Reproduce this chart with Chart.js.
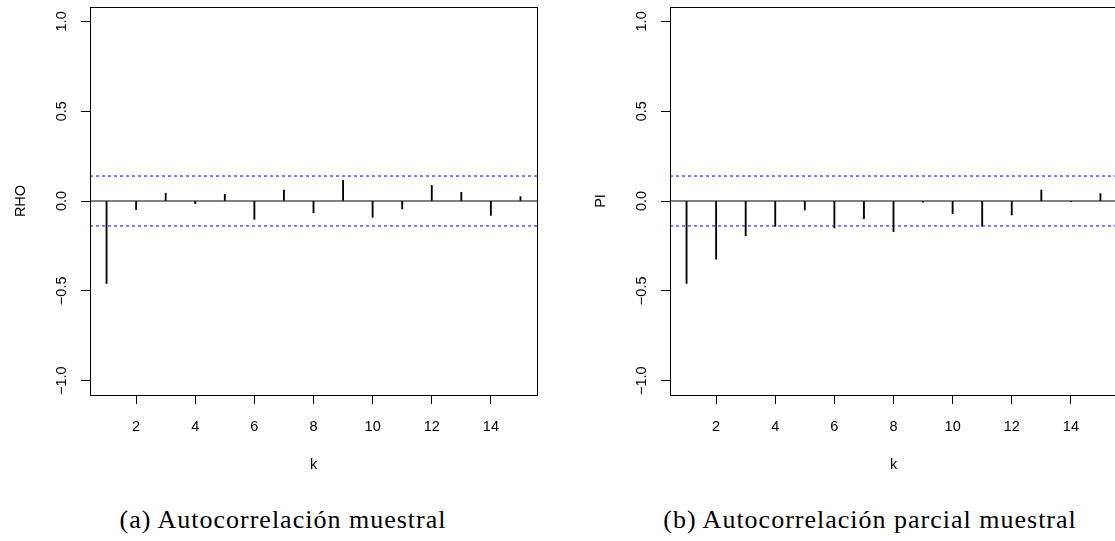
<!DOCTYPE html>
<html>
<head>
<meta charset="utf-8">
<script src="https://cdn.jsdelivr.net/npm/chart.js@4/dist/chart.umd.min.js"></script>
<style>
  body { margin: 0; width: 1115px; height: 541px; background: #fff; overflow: hidden; position: relative; }
  .panel { position: absolute; top: 0; width: 557px; height: 490px; }
  .caption { position: absolute; top: 507px; font-family: "Liberation Serif", serif; font-size: 26px; line-height: 26px;
             letter-spacing: 1px; white-space: nowrap; transform: translateX(-50%); color: #000; }
</style>
</head>
<body>
<div class="panel" style="left:0"><canvas id="acfChart" width="557" height="490"></canvas></div>
<div class="panel" style="left:580px"><canvas id="pacfChart" width="557" height="490"></canvas></div>
<div class="caption" style="left:283px">(a) Autocorrelación muestral</div>
<div class="caption" style="left:870px">(b) Autocorrelación parcial muestral</div>

<script>
"use strict";

// lags and sample correlations
let lags = [1, 2, 3, 4, 5, 6, 7, 8, 9, 10, 11, 12, 13, 14, 15];
let acfValues = [-0.459, -0.048, 0.043, -0.015, 0.037, -0.102, 0.061, -0.065, 0.115, -0.091, -0.044, 0.087, 0.048, -0.080, 0.024];
let pacfValues = [-0.459, -0.324, -0.194, -0.141, -0.050, -0.150, -0.098, -0.170, -0.007, -0.070, -0.141, -0.078, 0.061, -0.002, 0.041];
let confBound = 0.139;

let xTicks = [2, 4, 6, 8, 10, 12, 14];
let yTicks = [-1, -0.5, 0, 0.5, 1];
let yTickLabels = ["\u22121.0", "\u22120.5", "0.0", "0.5", "1.0"];
let xRange = [0.44, 15.56];
let yRange = [-1.08, 1.08];

const axisFont = { family: "'Liberation Sans', Arial, sans-serif", size: 14.5 };

// box round the plot + y tick labels written along the axis, as R does
const boxPlugin = {
  id: "box",
  afterDraw(chart) {
    const ctx = chart.ctx;
    const a = chart.chartArea;
    ctx.save();
    ctx.strokeStyle = "#000";
    ctx.lineWidth = 1;
    ctx.strokeRect(Math.round(a.left) + 0.5, Math.round(a.top) + 0.5,
      Math.round(a.right - a.left), Math.round(a.bottom - a.top));

    const yScale = chart.scales.y;
    ctx.fillStyle = "#000";
    ctx.font = "14.5px 'Liberation Sans', Arial, sans-serif";
    ctx.textAlign = "center";
    ctx.textBaseline = "middle";
    for (let i = 0; i < yTicks.length; i++) {
      ctx.save();
      ctx.translate(62, yScale.getPixelForValue(yTicks[i]));
      ctx.rotate(-Math.PI / 2);
      ctx.fillText(yTickLabels[i], 0, 0);
      ctx.restore();
    }
    ctx.restore();
  }
};

function hLine(y, color, dash) {
  return {
    type: "line",
    data: [{ x: xRange[0], y: y }, { x: xRange[1], y: y }],
    borderColor: color,
    borderWidth: 1,
    borderDash: dash,
    pointRadius: 0,
    fill: false
  };
}

function drawCorrelogram(canvasId, values, yTitle) {
  let points = [];
  for (let i = 0; i < lags.length; i++) {
    points.push({ x: lags[i], y: values[i] });
  }

  new Chart(document.getElementById(canvasId), {
    type: "bar",
    data: {
      datasets: [
        hLine(0, "#000", []),
        hLine(confBound, "#0000ff", [3, 3]),
        hLine(-confBound, "#0000ff", [3, 3]),
        {
          type: "bar",
          data: points,
          backgroundColor: "#000",
          barThickness: 1.2
        }
      ]
    },
    options: {
      responsive: false,
      animation: false,
      devicePixelRatio: 1,
      layout: { autoPadding: false, padding: { left: 0, top: 7, right: 20, bottom: 0 } },
      plugins: { legend: { display: false }, tooltip: { enabled: false } },
      scales: {
        x: {
          type: "linear",
          min: xRange[0],
          max: xRange[1],
          offset: false,
          afterBuildTicks: s => { s.ticks = xTicks.map(v => ({ value: v })); },
          afterFit: s => { s.height = 95; },
          grid: { offset: false, drawOnChartArea: false, tickLength: 9, color: "#000" },
          border: { display: false },
          ticks: { font: axisFont, color: "#000", padding: 14, maxRotation: 0, autoSkip: false },
          title: { display: true, text: "k", font: axisFont, color: "#000", padding: { top: 0, bottom: 16 } }
        },
        y: {
          min: yRange[0],
          max: yRange[1],
          afterBuildTicks: s => { s.ticks = yTicks.map(v => ({ value: v })); },
          afterFit: s => { s.width = 90; },
          grid: { drawOnChartArea: false, tickLength: 9, color: "#000" },
          border: { display: false },
          ticks: { display: false },
          title: { display: true, text: yTitle, font: axisFont, color: "#000", padding: { top: 12, bottom: 0 } }
        }
      }
    },
    plugins: [boxPlugin]
  });
}

drawCorrelogram("acfChart", acfValues, "RHO");
drawCorrelogram("pacfChart", pacfValues, "PI");
</script>
</body>
</html>
